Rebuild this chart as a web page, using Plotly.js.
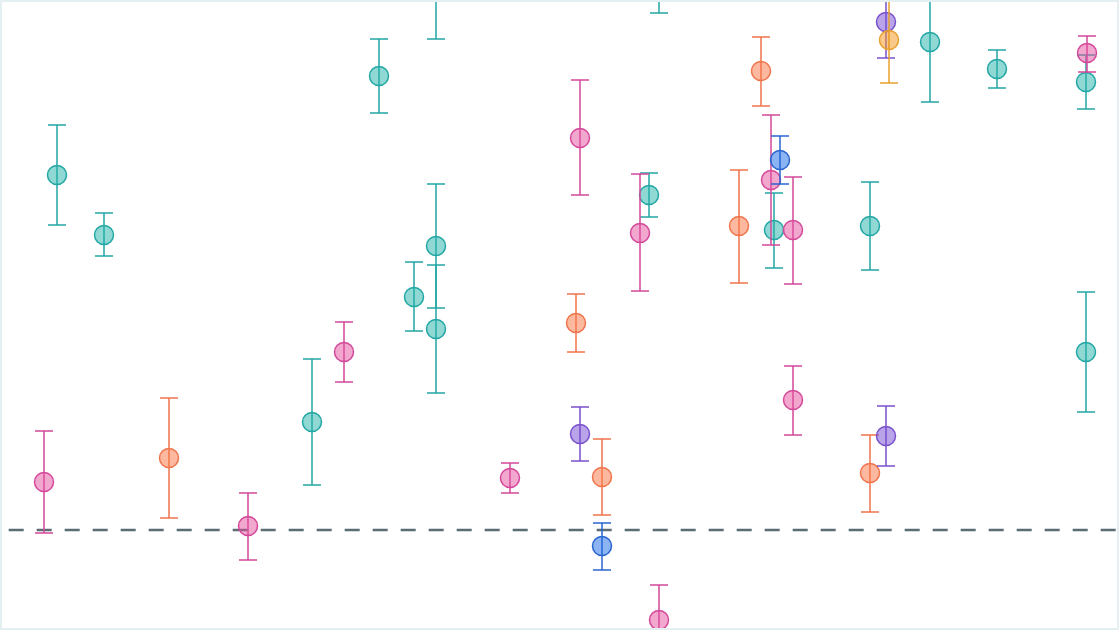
<!DOCTYPE html>
<html>
<head>
<meta charset="utf-8">
<script src="https://cdn.plot.ly/plotly-3.0.1.min.js"></script>
<style>
  html, body { margin: 0; padding: 0; background: #ffffff; }
  #chart { width: 1119px; height: 630px; }
</style>
</head>
<body>
<div id="chart"></div>
<script>
// estimates, one group per colour: position, effect, upper and lower error
const tealX = [0.57, 1.04, 3.79, 4.36, 6.59, 3.12, 4.14, 4.36, 4.36, 6.49, 7.74, 8.70, 9.30, 9.97, 10.86, 10.86];
const tealY = [3.55, 2.95, 4.54, 5.65, 5.75, 1.08, 2.33, 2.84, 2.01, 3.35, 3.00, 3.04, 4.88, 4.61, 4.48, 1.78];
const tealUp = [0.50, 0.22, 0.37, 0.75, 0.60, 0.63, 0.35, 0.62, 0.64, 0.22, 0.37, 0.44, 0.60, 0.19, 0.27, 0.60];
const tealDown = [0.50, 0.21, 0.37, 0.74, 0.58, 0.63, 0.34, 0.62, 0.64, 0.22, 0.38, 0.44, 0.60, 0.19, 0.27, 0.60];

const pinkX = [0.44, 2.48, 3.44, 5.10, 5.80, 6.40, 6.59, 7.71, 7.93, 7.93, 10.87];
const pinkY = [0.48, 0.04, 1.78, 0.52, 3.92, 2.97, -0.90, 3.50, 3.00, 1.30, 4.77];
const pinkUp = [0.51, 0.33, 0.30, 0.15, 0.58, 0.59, 0.35, 0.65, 0.53, 0.34, 0.17];
const pinkDown = [0.51, 0.34, 0.30, 0.15, 0.57, 0.58, 0.35, 0.65, 0.54, 0.35, 0.19];

const orangeX = [1.69, 5.76, 6.02, 7.39, 7.61, 8.70];
const orangeY = [0.72, 2.07, 0.53, 3.04, 4.59, 0.57];
const orangeUp = [0.60, 0.29, 0.38, 0.56, 0.34, 0.38];
const orangeDown = [0.60, 0.29, 0.38, 0.57, 0.35, 0.39];

const purpleX = [5.80, 8.86, 8.86];
const purpleY = [0.96, 0.94, 5.08];
const purpleUp = [0.27, 0.30, 0.40];
const purpleDown = [0.27, 0.30, 0.36];

const blueX = [6.02, 7.80];
const blueY = [-0.16, 3.70];
const blueUp = [0.23, 0.24];
const blueDown = [0.24, 0.24];

const yellowX = [8.89];
const yellowY = [4.90];
const yellowUp = [0.45];
const yellowDown = [0.43];

function series(x, y, up, down, fill, stroke) {
    return {
        x: x,
        y: y,
        mode: 'markers',
        type: 'scatter',
        marker: { size: 19, color: fill, line: { color: stroke, width: 1.5 } },
        error_y: {
            type: 'data',
            symmetric: false,
            array: up,
            arrayminus: down,
            color: stroke,
            thickness: 1.5,
            width: 9
        },
        hoverinfo: 'skip'
    };
}

var data = [
    series(tealX, tealY, tealUp, tealDown, 'rgba(32,178,170,0.5)', '#23a7a4'),
    series(pinkX, pinkY, pinkUp, pinkDown, 'rgba(229,79,159,0.5)', '#d4489a'),
    series(orangeX, orangeY, orangeUp, orangeDown, 'rgba(251,115,65,0.5)', '#f0744c'),
    series(purpleX, purpleY, purpleUp, purpleDown, 'rgba(115,73,213,0.5)', '#7a52cc'),
    series(blueX, blueY, blueUp, blueDown, 'rgba(25,105,229,0.5)', '#2a66d0'),
    series(yellowX, yellowY, yellowUp, yellowDown, 'rgba(241,147,21,0.5)', '#e9a02e')
];

var layout = {
    width: 1119,
    height: 630,
    margin: { l: 2, r: 2, t: 2, b: 2 },
    paper_bgcolor: '#ffffff',
    plot_bgcolor: '#ffffff',
    showlegend: false,
    hovermode: false,
    xaxis: {
        range: [0.02, 11.17],
        showgrid: false,
        zeroline: false,
        showticklabels: false,
        ticks: '',
        showline: true,
        mirror: true,
        linecolor: '#e3eff1',
        linewidth: 2
    },
    yaxis: {
        range: [-0.98, 5.28],
        showgrid: false,
        zeroline: false,
        showticklabels: false,
        ticks: '',
        showline: true,
        mirror: true,
        linecolor: '#e3eff1',
        linewidth: 2
    },
    shapes: [{
        type: 'line',
        xref: 'paper',
        yref: 'y',
        x0: 0.006,
        x1: 1,
        y0: 0,
        y1: 0,
        layer: 'below',
        line: { color: '#5b6e74', width: 2.5, dash: '15px,13px' }
    }]
};

Plotly.newPlot('chart', data, layout, { displayModeBar: false, staticPlot: true });
</script>
</body>
</html>
